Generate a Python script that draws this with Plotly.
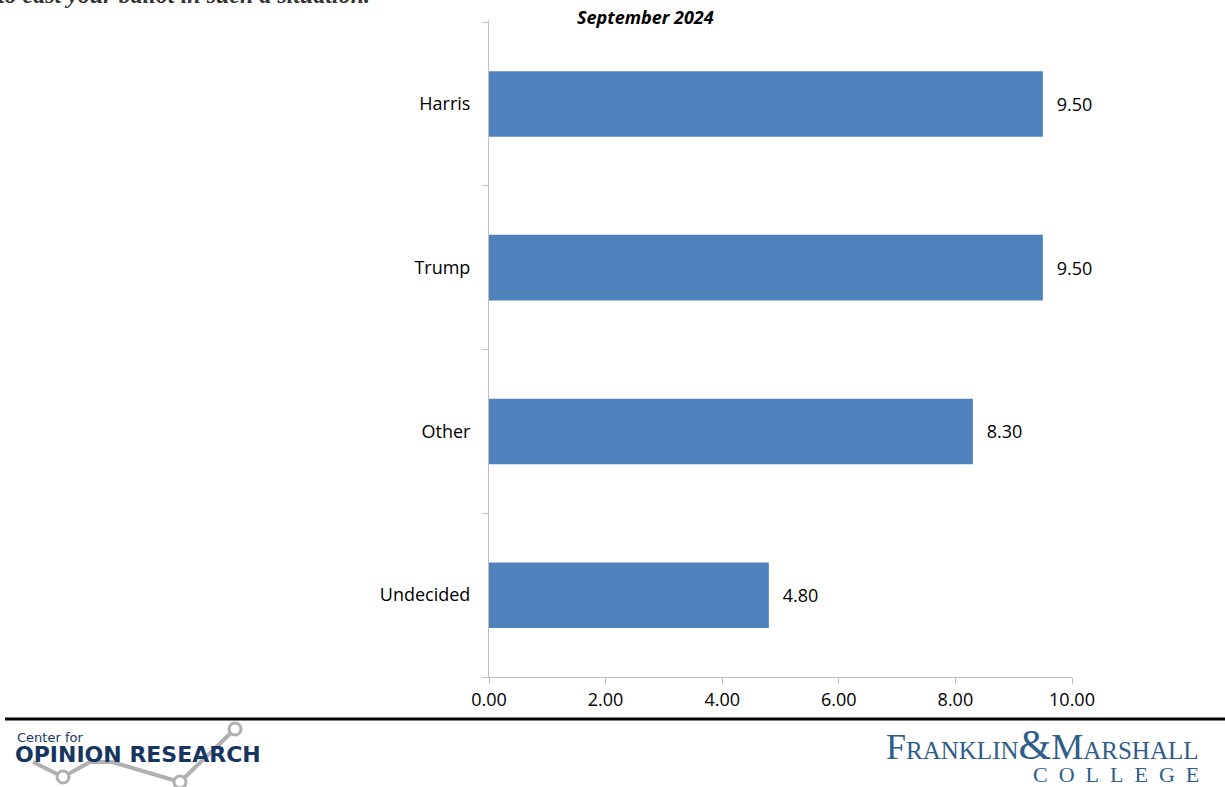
import plotly.graph_objects as go

categories = ["Harris", "Trump", "Other", "Undecided"]
values = [9.50, 9.50, 8.30, 4.80]
x_ticks = [0, 2, 4, 6, 8, 10]
x_tick_labels = ["0.00", "2.00", "4.00", "6.00", "8.00", "10.00"]

W, H = 1225, 787
L, R, T, B = 489, 153, 22, 110
PW, PH = W - L - R, H - T - B

def px(x):
    return (x - L) / PW

def py(y):
    return 1 - (y - T) / PH

FONT = "Open Sans"
NAVY = "#16365f"
FM = "#2e5d89"

fig = go.Figure(go.Bar(
    y=categories, x=values, orientation="h",
    marker=dict(color="#4f81bd", line=dict(width=0)),
    width=0.4,
    text=[f"{v:.2f}" for v in values],
    texttemplate="\u2002\u200a%{text}", textposition="outside",
    textfont=dict(size=18, color="#000", family=FONT),
    cliponaxis=False,
))

shapes = []
# footer rule
shapes.append(dict(type="line", xref="paper", yref="paper", x0=px(5), x1=px(1225),
                   y0=py(719), y1=py(719), line=dict(color="#000", width=3)))
# y axis line extends to top
shapes.append(dict(type="line", xref="paper", yref="paper", x0=0, x1=0,
                   y0=1, y1=py(20), line=dict(color="#bfbfbf", width=1)))
# logo line graph
pts = [(33, 762), (63, 777), (90, 762), (112, 762), (180, 782), (235, 729)]
path = "M " + " L ".join(f"{px(a)},{py(b)}" for a, b in pts)
shapes.append(dict(type="path", xref="paper", yref="paper", path=path,
                   line=dict(color="#b0b0b0", width=4), layer="below"))
for cx, cy in [(63, 777), (180, 782), (235, 729)]:
    shapes.append(dict(type="circle", xref="paper", yref="paper",
                       x0=px(cx - 6), x1=px(cx + 6), y0=py(cy - 6), y1=py(cy + 6),
                       fillcolor="#fff", line=dict(color="#b0b0b0", width=3)))

annotations = [
    dict(text="<b><i>September 2024</i></b>", xref="paper", yref="paper",
         x=px(645), y=py(17), xanchor="center", yanchor="middle", showarrow=False,
         font=dict(size=18, color="#000", family=FONT)),
    dict(text="<b><i>to cast your ballot in such a situation.</i></b>", xref="paper", yref="paper",
         x=px(-4), y=py(10), xanchor="left", yanchor="bottom", showarrow=False,
         font=dict(size=24, color="#333", family="Liberation Serif")),
    dict(text="Center for", xref="paper", yref="paper", x=px(15), y=py(737),
         xanchor="left", yanchor="middle", showarrow=False,
         font=dict(size=13, color=NAVY, family="DejaVu Sans")),
    dict(text="<b>OPINION RESEARCH</b>", xref="paper", yref="paper", x=px(13), y=py(754),
         xanchor="left", yanchor="middle", showarrow=False,
         font=dict(size=22, color=NAVY, family="DejaVu Sans")),
    dict(text="<span style='font-size:36px'>F</span>RANKLIN<span style='font-size:42px'>&amp;</span><span style='font-size:36px'>M</span>ARSHALL",
         xref="paper", yref="paper", x=px(1201), y=py(745),
         xanchor="right", yanchor="middle", showarrow=False,
         font=dict(size=25, color=FM, family="Liberation Serif")),
    dict(text="C\u2002O\u2002L\u2002L\u2002E\u2002G\u2002E", xref="paper", yref="paper", x=px(1201), y=py(774),
         xanchor="right", yanchor="middle", showarrow=False,
         font=dict(size=22, color=FM, family="Liberation Serif")),
]

fig.update_layout(
    width=W, height=H,
    margin=dict(l=L, r=R, t=T, b=B),
    paper_bgcolor="#fff", plot_bgcolor="#fff",
    showlegend=False,
    shapes=shapes, annotations=annotations,
    bargap=0.6,
    xaxis=dict(range=[0, 10], tickvals=x_ticks, ticktext=x_tick_labels,
               showgrid=False, zeroline=False, showline=True, linecolor="#bfbfbf", linewidth=1,
               ticks="outside", ticklen=6, tickcolor="#bfbfbf",
               tickfont=dict(size=18, color="#000", family=FONT), fixedrange=True),
    yaxis=dict(categoryorder="array", categoryarray=categories[::-1],
               range=[-0.5, 3.5], showgrid=False, zeroline=False,
               showline=True, linecolor="#bfbfbf", linewidth=1,
               ticks="outside", ticklen=6, tickcolor="#bfbfbf", tickson="boundaries",
               tickfont=dict(size=18, color="#000", family=FONT), ticklabelstandoff=14),
)

fig.write_html("out.html")
